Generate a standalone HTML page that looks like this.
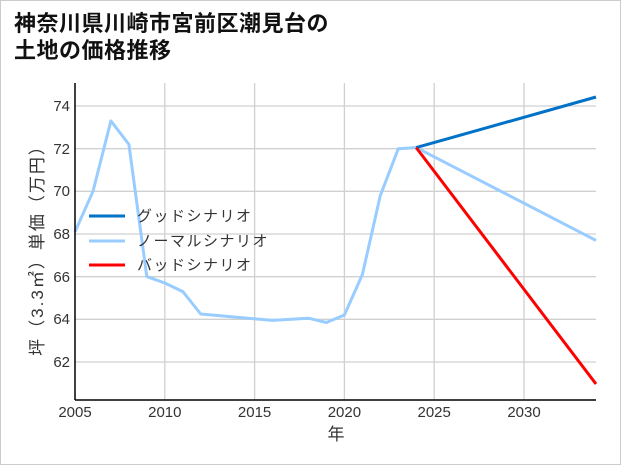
<!DOCTYPE html>
<html><head><meta charset="utf-8"><style>
html,body{margin:0;padding:0;background:#fff}
svg{display:block;font-family:"Liberation Sans","Noto Sans CJK JP",sans-serif}
</style></head><body>
<svg width="621" height="465" viewBox="0 0 621 465">
<rect x="0.5" y="0.5" width="620" height="464" fill="#fff" stroke="#ccc"/>
<text x="14" y="31" font-size="22" font-weight="bold" fill="#111" letter-spacing="0.5">神奈川県川崎市宮前区潮見台の</text>
<text x="14" y="58" font-size="22" font-weight="bold" fill="#111" letter-spacing="0.5">土地の価格推移</text>
<g stroke="#d0d0d0" stroke-width="1.3">
<line x1="164.8" y1="83" x2="164.8" y2="400"/><line x1="254.6" y1="83" x2="254.6" y2="400"/>
<line x1="344.4" y1="83" x2="344.4" y2="400"/><line x1="434.2" y1="83" x2="434.2" y2="400"/>
<line x1="524" y1="83" x2="524" y2="400"/>
<line x1="75" y1="106" x2="596" y2="106"/><line x1="75" y1="148.7" x2="596" y2="148.7"/>
<line x1="75" y1="191.3" x2="596" y2="191.3"/><line x1="75" y1="234" x2="596" y2="234"/>
<line x1="75" y1="276.7" x2="596" y2="276.7"/><line x1="75" y1="319.3" x2="596" y2="319.3"/>
<line x1="75" y1="362" x2="596" y2="362"/>
</g>
<g fill="none" stroke-width="3" stroke-linejoin="round">
<polyline stroke="#99ccff" points="75,231.8 93,191.3 110.9,120.9 128.9,144.4 146.8,276.6 164.8,283 182.8,291.6 200.7,314 272.6,320.4 308.5,318.2 326.4,322.5 344.4,315 362.4,274.5 380.3,195.6 398.3,148.7 416.2,147.6 596,240.4"/>
<polyline stroke="#0072c8" points="416.2,147.6 596,97"/>
<polyline stroke="#ff0000" points="416.2,147.6 596,384"/>
</g>
<line x1="75" y1="83" x2="75" y2="400" stroke="#000" stroke-width="1.5"/>
<line x1="75" y1="400" x2="596" y2="400" stroke="#000" stroke-width="1.5"/>
<g font-size="15" fill="#333" text-anchor="end">
<text x="70" y="111">74</text><text x="70" y="154">72</text><text x="70" y="196">70</text>
<text x="70" y="239">68</text><text x="70" y="282">66</text><text x="70" y="324">64</text><text x="70" y="367">62</text>
</g>
<g font-size="15" fill="#333" text-anchor="middle">
<text x="75" y="417">2005</text><text x="164.8" y="417">2010</text><text x="254.6" y="417">2015</text>
<text x="344.4" y="417">2020</text><text x="434.2" y="417">2025</text><text x="524" y="417">2030</text>
<text x="336" y="440" font-size="17">年</text>
</g>
<text transform="translate(43,246) rotate(-90)" font-size="17" fill="#333" text-anchor="middle" letter-spacing="2">坪（3.3㎡）単価（万円）</text>
<g stroke-width="3">
<line x1="89" y1="216" x2="125" y2="216" stroke="#0072c8"/>
<line x1="89" y1="241" x2="125" y2="241" stroke="#99ccff"/>
<line x1="89" y1="265" x2="125" y2="265" stroke="#ff0000"/>
</g>
<g font-size="15" fill="#333" letter-spacing="1.5">
<text x="137" y="221">グッドシナリオ</text>
<text x="137" y="246">ノーマルシナリオ</text>
<text x="137" y="270">バッドシナリオ</text>
</g>
</svg>
</body></html>
